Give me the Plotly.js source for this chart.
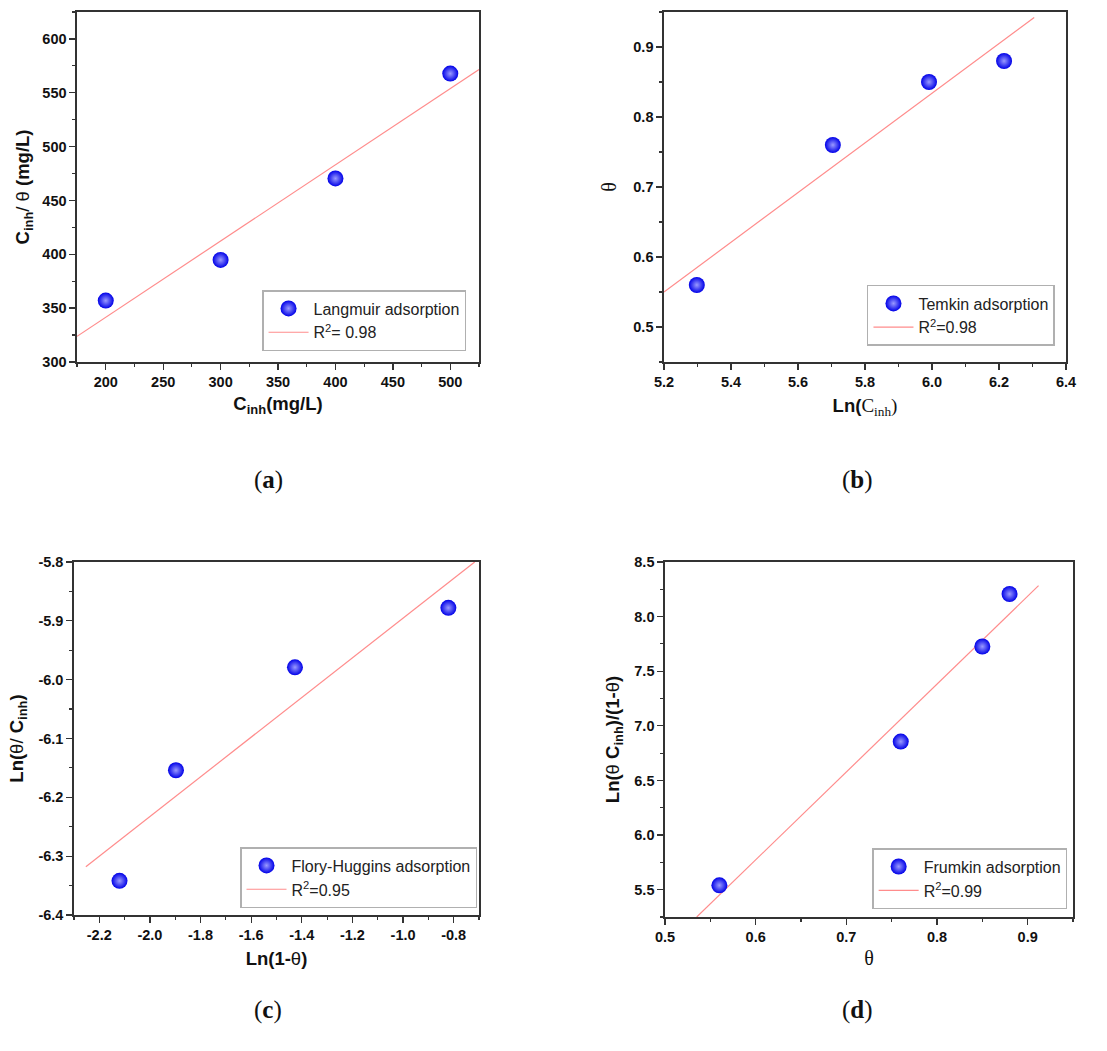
<!DOCTYPE html>
<html>
<head>
<meta charset="utf-8">
<script src="https://cdn.plot.ly/plotly-3.0.1.min.js"></script>
<style>
  html, body { margin: 0; padding: 0; background: #fff; }
  #chart { width: 1107px; height: 1051px; }
</style>
</head>
<body>
<div id="chart"></div>
<script>
// (a) Langmuir
var langmuirX = [200, 300, 400, 500];
var langmuirY = [357, 394.8, 470.4, 567.8];
var langmuirFitX = [175, 525];
var langmuirFitY = [323.8, 571.6];

// (b) Temkin
var temkinX = [5.298, 5.704, 5.991, 6.215];
var temkinY = [0.56, 0.76, 0.85, 0.88];
var temkinFitX = [5.2, 6.305];
var temkinFitY = [0.55, 0.942];

// (c) Flory-Huggins
var floryX = [-2.12, -1.897, -1.427, -0.821];
var floryY = [-6.342, -6.154, -5.979, -5.878];
var floryFitX = [-2.253, -0.717];
var floryFitY = [-6.318, -5.8];
var floryXTicks = [-2.2, -2.0, -1.8, -1.6, -1.4, -1.2, -1.0, -0.8];
var floryXLabels = ['-2.2', '-2.0', '-1.8', '-1.6', '-1.4', '-1.2', '-1.0', '-0.8'];
var floryYTicks = [-6.4, -6.3, -6.2, -6.1, -6.0, -5.9, -5.8];
var floryYLabels = ['-6.4', '-6.3', '-6.2', '-6.1', '-6.0', '-5.9', '-5.8'];

// (d) Frumkin
var frumkinX = [0.56, 0.76, 0.85, 0.88];
var frumkinY = [5.54, 6.856, 7.726, 8.207];
var frumkinFitX = [0.535, 0.912];
var frumkinFitY = [5.25, 8.283];

var legendNames = ['Langmuir adsorption', 'Temkin adsorption', 'Flory-Huggins adsorption', 'Frumkin adsorption'];
var fitNames = ['R<sup>2</sup>= 0.98', 'R<sup>2</sup>=0.98', 'R<sup>2</sup>=0.95', 'R<sup>2</sup>=0.99'];

var sans = 'Liberation Sans, Arial, sans-serif';
var serif = 'Liberation Serif, Times New Roman, serif';

function pointTrace(x, y, name, i) {
    var suffix = i === 0 ? '' : String(i + 1);
    return {
        x: x, y: y, name: name,
        mode: 'markers', type: 'scatter',
        xaxis: 'x' + suffix, yaxis: 'y' + suffix,
        legend: 'legend' + suffix,
        legendrank: 1,
        marker: {
            size: 16,
            color: '#0000e8',
            gradient: {type: 'radial', color: '#9a9aff'},
            line: {width: 0}
        }
    };
}

function fitTrace(x, y, name, i) {
    var suffix = i === 0 ? '' : String(i + 1);
    return {
        x: x, y: y, name: name,
        mode: 'lines', type: 'scatter',
        xaxis: 'x' + suffix, yaxis: 'y' + suffix,
        legend: 'legend' + suffix,
        legendrank: 2,
        line: {color: '#ff8c8c', width: 1.2}
    };
}

var data = [
    fitTrace(langmuirFitX, langmuirFitY, fitNames[0], 0),
    pointTrace(langmuirX, langmuirY, legendNames[0], 0),
    fitTrace(temkinFitX, temkinFitY, fitNames[1], 1),
    pointTrace(temkinX, temkinY, legendNames[1], 1),
    fitTrace(floryFitX, floryFitY, fitNames[2], 2),
    pointTrace(floryX, floryY, legendNames[2], 2),
    fitTrace(frumkinFitX, frumkinFitY, fitNames[3], 3),
    pointTrace(frumkinX, frumkinY, legendNames[3], 3)
];

function axis(domain, range, dtick, minorDtick, fmt, title, standoff, anchor) {
    return {
        domain: domain,
        range: range,
        anchor: anchor,
        dtick: dtick,
        tick0: 0,
        tickformat: fmt,
        ticks: 'outside',
        ticklen: 6,
        tickwidth: 1.3,
        tickcolor: '#333',
        minor: {ticks: 'outside', ticklen: 3.5, dtick: minorDtick, tickcolor: '#333', tickwidth: 1.2},
        showline: true,
        mirror: true,
        linecolor: '#333',
        linewidth: 1.6,
        showgrid: false,
        zeroline: false,
        title: {text: title, standoff: standoff, font: {family: sans, size: 18.5, color: '#111', weight: 'normal'}}
    };
}

function legendBox(x, y) {
    return {
        x: x, y: y, xanchor: 'right', yanchor: 'bottom',
        bgcolor: '#fff',
        bordercolor: '#b0b0b0',
        borderwidth: 1.5,
        font: {family: sans, size: 16, color: '#222', weight: 'normal'},
        tracegroupgap: 0,
        itemwidth: 40
    };
}

var thetaSerif = '<span style="font-family:Liberation Serif;font-weight:normal;font-size:20px">θ</span>';
var thetaSans = '<span style="font-weight:normal">θ</span>';

var xaxis3 = axis([0.0668, 0.4327], [-2.3, -0.7], 0.2, 0.1, '.1f',
    '<b>Ln(1-</b>' + thetaSans + '<b>)</b>', 10, 'y3');
xaxis3.tickmode = 'array';
xaxis3.tickvals = floryXTicks;
xaxis3.ticktext = floryXLabels;

var yaxis3 = axis([0.1294, 0.4653], [-6.4, -5.8], 0.1, 0.05, '.1f',
    '<b>Ln(</b>' + thetaSans + '/ <b>C<sub>inh</sub>)</b>', 10, 'x3');
yaxis3.tickmode = 'array';
yaxis3.tickvals = floryYTicks;
yaxis3.ticktext = floryYLabels;

var layout = {
    width: 1107,
    height: 1051,
    margin: {l: 0, r: 0, t: 0, b: 0},
    paper_bgcolor: '#fff',
    plot_bgcolor: '#fff',
    // tick labels take this font: bold Arial-like
    font: {family: 'Liberation Sans', size: 14.5, color: '#111', weight: 'bold'},
    xaxis: axis([0.0696, 0.4327], [175, 525], 50, 25, 'd',
        '<b>C<sub>inh</sub>(mg/L)</b>', 8, 'y'),
    yaxis: axis([0.6556, 0.9886], [300, 625], 50, 25, 'd',
        '<b>C<sub>inh</sub></b>/ ' + thetaSans + ' <b>(mg/L)</b>', 8, 'x'),
    xaxis2: axis([0.5998, 0.9630], [5.2, 6.4], 0.2, 0.1, '.1f',
        '<b>Ln(</b><span style="font-family:Liberation Serif;font-size:19px">C<sub>inh</sub>)</span>', 10, 'y2'),
    yaxis2: axis([0.6556, 0.9886], [0.45, 0.95], 0.1, 0.05, '.1f',
        thetaSerif, 12, 'x2'),
    xaxis3: xaxis3,
    yaxis3: yaxis3,
    xaxis4: axis([0.6007, 0.9693], [0.5, 0.95], 0.1, 0.05, '.1f',
        thetaSerif, 8, 'y4'),
    yaxis4: axis([0.1275, 0.4653], [5.25, 8.5], 0.5, 0.25, '.1f',
        '<b>Ln(</b>' + thetaSans + ' <b>C<sub>inh</sub>)/(1-</b>' + thetaSans + '<b>)</b>', 10, 'x4'),
    legend: legendBox(0.421, 0.666),
    legend2: legendBox(0.953, 0.6708),
    legend3: legendBox(0.4309, 0.136),
    legend4: legendBox(0.964, 0.135),
    showlegend: true,
    annotations: [
        {text: '(<b>a</b>)', x: 268 / 1107, y: 1 - 480 / 1051},
        {text: '(<b>b</b>)', x: 857 / 1107, y: 1 - 480 / 1051},
        {text: '(<b>c</b>)', x: 268 / 1107, y: 1 - 1010 / 1051},
        {text: '(<b>d</b>)', x: 857 / 1107, y: 1 - 1010 / 1051}
    ].map(function (a) {
        a.xref = 'paper'; a.yref = 'paper';
        a.xanchor = 'center'; a.yanchor = 'middle';
        a.showarrow = false;
        a.font = {family: serif, size: 25, color: '#111', weight: 'normal'};
        return a;
    })
};

Plotly.newPlot('chart', data, layout, {displayModeBar: false, staticPlot: true});
</script>
</body>
</html>
